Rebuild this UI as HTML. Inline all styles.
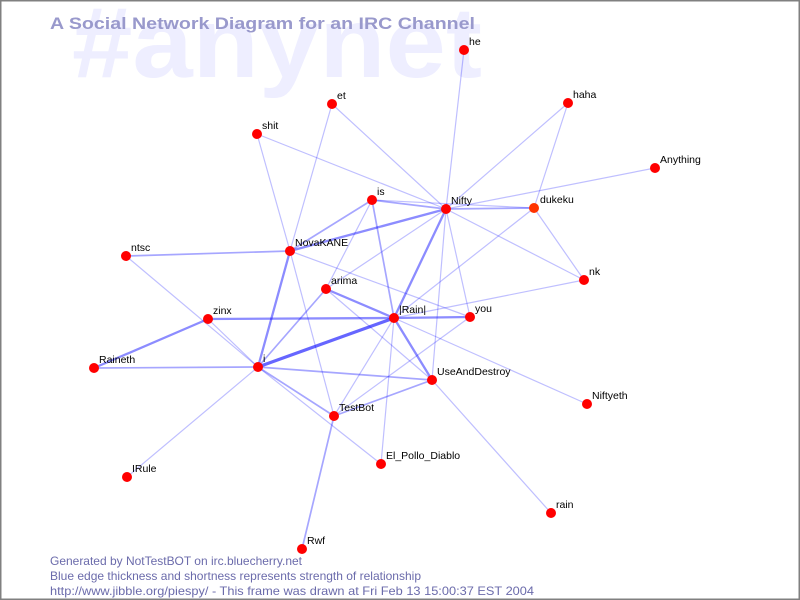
<!DOCTYPE html>
<html>
<head>
<meta charset="utf-8">
<style>
  html, body { margin: 0; padding: 0; background: #ffffff; }
  body { width: 800px; height: 600px; overflow: hidden; }
  svg { display: block; }
  .lbl { font-family: "Liberation Sans", "DejaVu Sans", sans-serif; font-size: 10.5px; fill: #000000; }
  .ft { font-family: "Liberation Sans", "DejaVu Sans", sans-serif; font-size: 12px; fill: #6b6bab; }
</style>
</head>
<body>
<svg width="800" height="600" viewBox="0 0 800 600" xmlns="http://www.w3.org/2000/svg">
  <rect x="0" y="0" width="800" height="600" fill="#ffffff"/>
  <!-- watermark -->
  <text x="72" y="77" font-family="Liberation Sans, DejaVu Sans, sans-serif" font-weight="bold" font-size="100" fill="#eeeeff" textLength="410" lengthAdjust="spacingAndGlyphs">#anynet</text>
  <!-- title -->
  <text x="50" y="29" font-family="Liberation Sans, DejaVu Sans, sans-serif" font-weight="bold" font-size="17" fill="#9999cc" textLength="425" lengthAdjust="spacingAndGlyphs">A Social Network Diagram for an IRC Channel</text>

  <!-- thin edges -->
  <g stroke="#0000ff" stroke-opacity="0.25" stroke-width="1.2" fill="none" stroke-linecap="round">
    <line x1="464" y1="50" x2="446" y2="209"/>
    <line x1="332" y1="104" x2="446" y2="209"/>
    <line x1="332" y1="104" x2="290" y2="251"/>
    <line x1="257" y1="134" x2="446" y2="209"/>
    <line x1="257" y1="134" x2="290" y2="251"/>
    <line x1="568" y1="103" x2="446" y2="209"/>
    <line x1="568" y1="103" x2="534" y2="208"/>
    <line x1="655" y1="168" x2="446" y2="209"/>
    <line x1="372" y1="200" x2="534" y2="208"/>
    <line x1="534" y1="208" x2="584" y2="280"/>
    <line x1="446" y1="209" x2="584" y2="280"/>
    <line x1="534" y1="208" x2="394" y2="318"/>
    <line x1="584" y1="280" x2="394" y2="318"/>
    <line x1="446" y1="209" x2="432" y2="380"/>
    <line x1="446" y1="209" x2="470" y2="317"/>
    <line x1="326" y1="289" x2="446" y2="209"/>
    <line x1="290" y1="251" x2="470" y2="317"/>
    <line x1="290" y1="251" x2="334" y2="416"/>
    <line x1="372" y1="200" x2="326" y2="289"/>
    <line x1="126" y1="256" x2="258" y2="367"/>
    <line x1="208" y1="319" x2="258" y2="367"/>
    <line x1="394" y1="318" x2="587" y2="404"/>
    <line x1="394" y1="318" x2="334" y2="416"/>
    <line x1="394" y1="318" x2="381" y2="464"/>
    <line x1="470" y1="317" x2="334" y2="416"/>
    <line x1="432" y1="380" x2="551" y2="513"/>
    <line x1="258" y1="367" x2="381" y2="464"/>
    <line x1="258" y1="367" x2="127" y2="477"/>
    <line x1="326" y1="289" x2="432" y2="380"/>
  </g>
  <!-- medium edges -->
  <g stroke="#0000ff" stroke-opacity="0.35" stroke-width="1.7" fill="none" stroke-linecap="round">
    <line x1="290" y1="251" x2="126" y2="256"/>
    <line x1="290" y1="251" x2="372" y2="200"/>
    <line x1="372" y1="200" x2="446" y2="209"/>
    <line x1="446" y1="209" x2="534" y2="208"/>
    <line x1="258" y1="367" x2="326" y2="289"/>
    <line x1="258" y1="367" x2="94" y2="368"/>
    <line x1="258" y1="367" x2="432" y2="380"/>
    <line x1="258" y1="367" x2="334" y2="416"/>
    <line x1="432" y1="380" x2="334" y2="416"/>
    <line x1="372" y1="200" x2="394" y2="318"/>
    <line x1="302" y1="549" x2="334" y2="416"/>
  </g>
  <!-- thick edges -->
  <g stroke="#0000ff" stroke-opacity="0.45" stroke-width="2.3" fill="none" stroke-linecap="round">
    <line x1="290" y1="251" x2="446" y2="209"/>
    <line x1="290" y1="251" x2="258" y2="367"/>
    <line x1="326" y1="289" x2="394" y2="318"/>
    <line x1="208" y1="319" x2="94" y2="368"/>
    <line x1="208" y1="319" x2="394" y2="318"/>
    <line x1="394" y1="318" x2="470" y2="317"/>
    <line x1="394" y1="318" x2="446" y2="209"/>
    <line x1="394" y1="318" x2="432" y2="380"/>
  </g>
  <g stroke="#0000ff" stroke-opacity="0.6" stroke-width="3.2" fill="none" stroke-linecap="round">
    <line x1="258" y1="367" x2="394" y2="318"/>
  </g>

  <!-- nodes -->
  <g fill="#ff0000">
    <circle cx="464" cy="50" r="5"/>
    <circle cx="332" cy="104" r="5"/>
    <circle cx="568" cy="103" r="5"/>
    <circle cx="257" cy="134" r="5"/>
    <circle cx="655" cy="168" r="5"/>
    <circle cx="372" cy="200" r="5"/>
    <circle cx="446" cy="209" r="5"/>
    <circle cx="534" cy="208" r="5" fill="#ff3300"/>
    <circle cx="290" cy="251" r="5"/>
    <circle cx="126" cy="256" r="5"/>
    <circle cx="584" cy="280" r="5"/>
    <circle cx="326" cy="289" r="5"/>
    <circle cx="394" cy="318" r="5"/>
    <circle cx="470" cy="317" r="5"/>
    <circle cx="208" cy="319" r="5"/>
    <circle cx="94" cy="368" r="5"/>
    <circle cx="258" cy="367" r="5"/>
    <circle cx="432" cy="380" r="5"/>
    <circle cx="587" cy="404" r="5"/>
    <circle cx="334" cy="416" r="5"/>
    <circle cx="381" cy="464" r="5"/>
    <circle cx="127" cy="477" r="5"/>
    <circle cx="551" cy="513" r="5"/>
    <circle cx="302" cy="549" r="5"/>
  </g>

  <!-- labels -->
  <g class="lbl">
    <text class="lbl" x="469" y="45">he</text>
    <text class="lbl" x="337" y="99">et</text>
    <text class="lbl" x="573" y="98">haha</text>
    <text class="lbl" x="262" y="129">shit</text>
    <text class="lbl" x="660" y="163">Anything</text>
    <text class="lbl" x="377" y="195">is</text>
    <text class="lbl" x="451" y="204">Nifty</text>
    <text class="lbl" x="540" y="203">dukeku</text>
    <text class="lbl" x="295" y="246">NovaKANE</text>
    <text class="lbl" x="131" y="251">ntsc</text>
    <text class="lbl" x="589" y="275">nk</text>
    <text class="lbl" x="331" y="284">arima</text>
    <text class="lbl" x="399" y="313">|Rain|</text>
    <text class="lbl" x="475" y="312">you</text>
    <text class="lbl" x="213" y="314">zinx</text>
    <text class="lbl" x="99" y="363">Raineth</text>
    <text class="lbl" x="263" y="362">i</text>
    <text class="lbl" x="437" y="375">UseAndDestroy</text>
    <text class="lbl" x="592" y="399">Niftyeth</text>
    <text class="lbl" x="339" y="411">TestBot</text>
    <text class="lbl" x="386" y="459">El_Pollo_Diablo</text>
    <text class="lbl" x="132" y="472">IRule</text>
    <text class="lbl" x="556" y="508">rain</text>
    <text class="lbl" x="307" y="544">Rwf</text>
  </g>

  <!-- footer -->
  <text class="ft" x="50" y="565" textLength="252" lengthAdjust="spacingAndGlyphs">Generated by NotTestBOT on irc.bluecherry.net</text>
  <text class="ft" x="50" y="580" textLength="371" lengthAdjust="spacingAndGlyphs">Blue edge thickness and shortness represents strength of relationship</text>
  <text class="ft" x="50" y="595" textLength="484" lengthAdjust="spacingAndGlyphs">http://www.jibble.org/piespy/ - This frame was drawn at Fri Feb 13 15:00:37 EST 2004</text>

  <!-- border -->
  <rect x="0.75" y="0.75" width="798.5" height="598.5" fill="none" stroke="#808080" stroke-width="1.5"/>
</svg>
</body>
</html>
